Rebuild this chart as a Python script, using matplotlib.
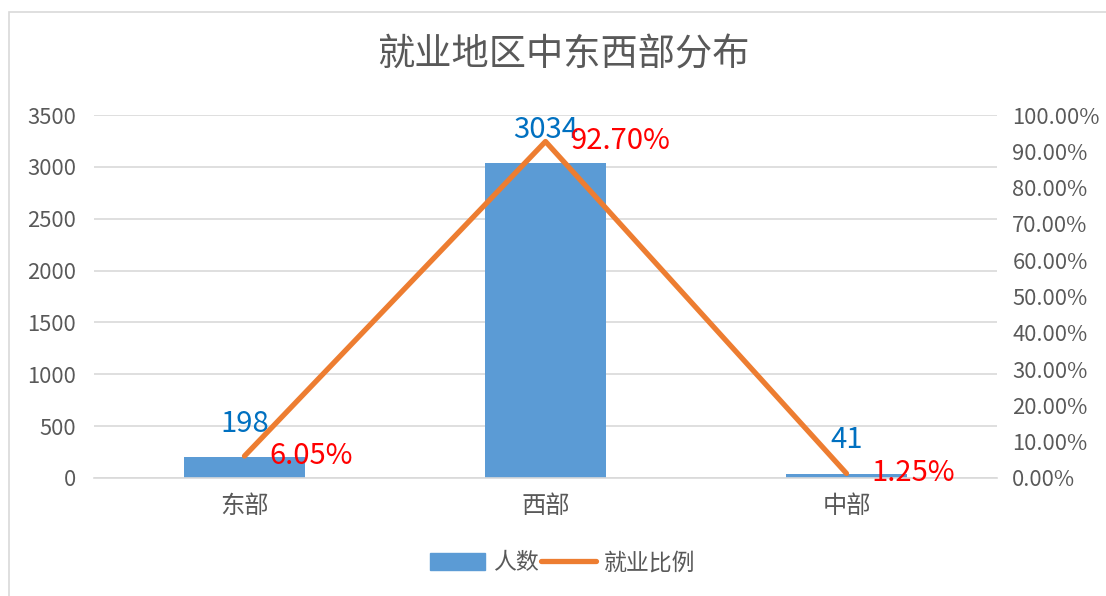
import matplotlib
matplotlib.use("Agg")
import matplotlib.pyplot as plt
from matplotlib.patches import Rectangle
from matplotlib.lines import Line2D
from matplotlib.ticker import FuncFormatter

plt.rcParams['font.family'] = ['Noto Sans CJK SC', 'DejaVu Sans']

categories = ['东部', '西部', '中部']
counts = [198, 3034, 41]
ratios = [6.05, 92.70, 1.25]
ratio_labels = ['6.05%', '92.70%', '1.25%']
title = '就业地区中东西部分布'
legend_labels = ['人数', '就业比例']

bar_color = '#5B9BD5'
line_color = '#ED7D31'
text_gray = '#595959'
grid_gray = '#D9D9D9'

fig = plt.figure(figsize=(11.06, 5.96), dpi=100)
fig.patches.append(Rectangle((9 / 1106, -0.1), 1.2, (596 - 12) / 596 + 0.1,
                             transform=fig.transFigure, fill=False,
                             edgecolor='#D9D9D9', linewidth=1.2))

ax = fig.add_axes([94 / 1106, 118 / 596, 903 / 1106, 363 / 596])
x = list(range(len(categories)))
ax.bar(x, counts, width=0.4, color=bar_color, zorder=2)
ax.set_xlim(-0.5, 2.5)
ax.set_ylim(0, 3500)
ax.set_yticks(range(0, 3501, 500))
ax.grid(axis='y', color=grid_gray, linewidth=1.2, zorder=0)
ax.set_axisbelow(True)
for s in ['top', 'right', 'left']:
    ax.spines[s].set_visible(False)
ax.spines['bottom'].set_color(grid_gray)
ax.spines['bottom'].set_linewidth(1.2)
ax.tick_params(axis='both', length=0, colors=text_gray, labelsize=15.8)
ax.tick_params(axis='y', pad=13)
ax.tick_params(axis='x', pad=11, labelsize=17.5)
ax.set_xticks(x)
ax.set_xticklabels(categories)

ax2 = ax.twinx()
ax2.plot(x, ratios, color=line_color, linewidth=3.8, solid_capstyle='round', zorder=3)
ax2.set_ylim(0, 100)
ax2.set_yticks(range(0, 101, 10))
ax2.yaxis.set_major_formatter(FuncFormatter(lambda v, p: f'{v:.2f}%'))
ax2.tick_params(axis='y', length=0, colors=text_gray, labelsize=15.8, pad=11)
for s in ax2.spines.values():
    s.set_visible(False)

for xi, c in zip(x, counts):
    ax.annotate(str(c), (xi, c), xytext=(0, 24), textcoords='offset points',
                ha='center', va='center', color='#0070C0', fontsize=21)
for xi, r, lab in zip(x, ratios, ratio_labels):
    ax2.annotate(lab, (xi, r), xytext=(18, 0), textcoords='offset points',
                 ha='left', va='center', color='#FF0000', fontsize=21, zorder=5)

fig.text(563 / 1106, 1 - 55 / 596, title, ha='center', va='center',
         fontsize=26.8, color=text_gray, fontweight='light')

handles = [Rectangle((0, 0), 1, 1, color=bar_color),
           Line2D([0], [0], color=line_color, linewidth=3.8, solid_capstyle='round')]
fig.legend(handles, legend_labels, loc='center', bbox_to_anchor=(563 / 1106, 1 - 563 / 596),
           ncol=2, frameon=False, fontsize=16.5, labelcolor=text_gray,
           handlelength=2.4, handletextpad=0.35, columnspacing=0.1)

fig.savefig('out.png', dpi=100)
